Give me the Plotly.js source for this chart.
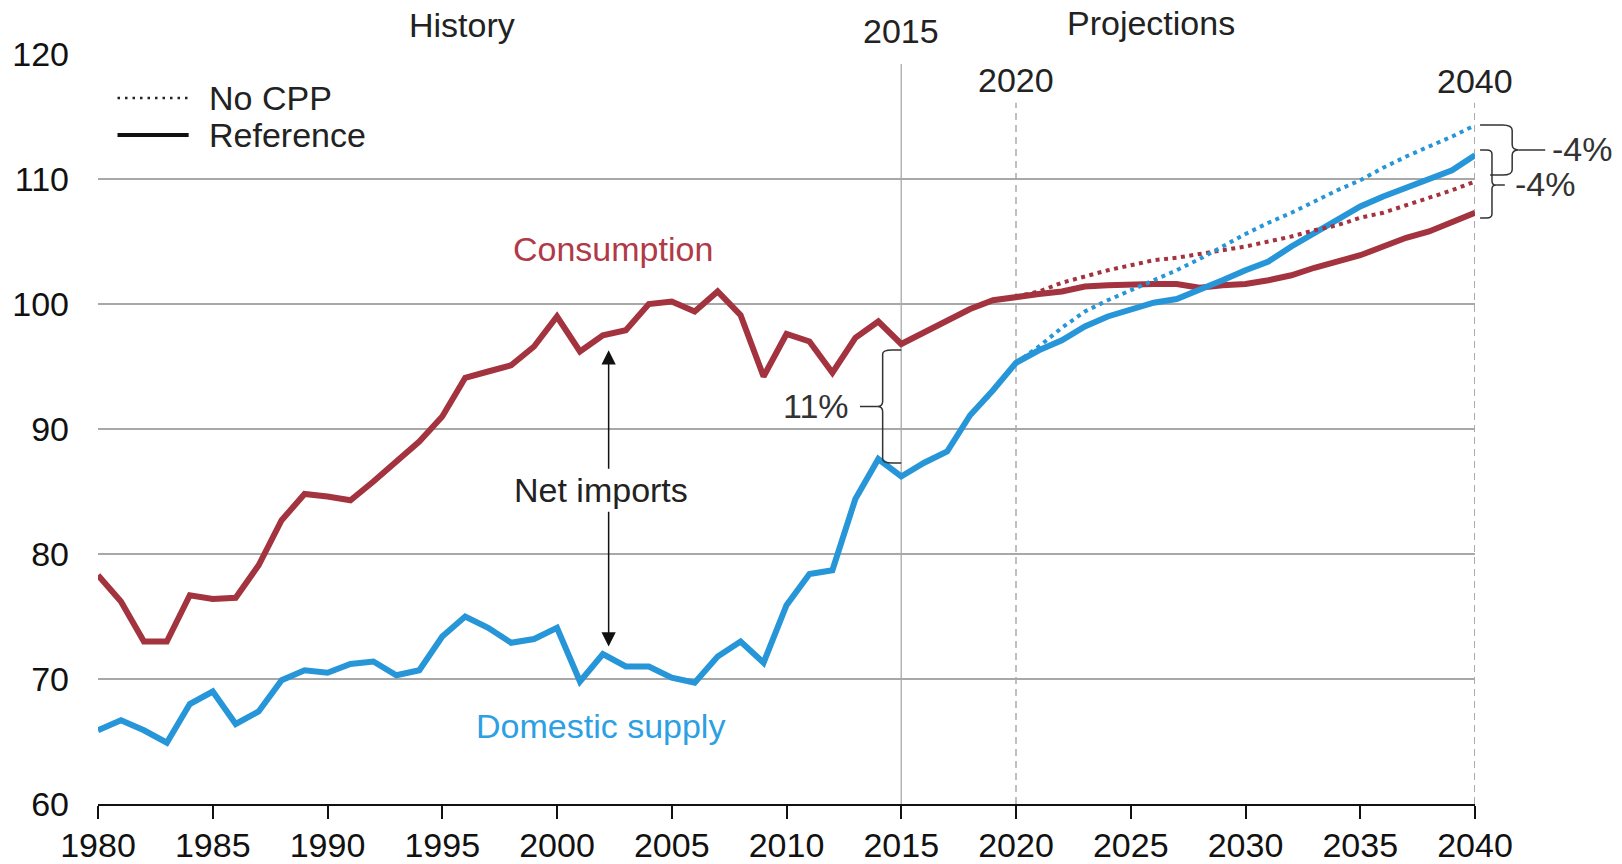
<!DOCTYPE html>
<html><head><meta charset="utf-8">
<script src="https://cdn.plot.ly/plotly-3.0.1.min.js"></script>
<style>html,body{margin:0;padding:0;background:#fff}#chart{width:1622px;height:864px}</style>
</head><body><div id="chart"></div>
<script>
const years = [1980,1981,1982,1983,1984,1985,1986,1987,1988,1989,1990,1991,1992,1993,1994,1995,1996,1997,1998,1999,2000,2001,2002,2003,2004,2005,2006,2007,2008,2009,2010,2011,2012,2013,2014,2015,2016,2017,2018,2019,2020,2021,2022,2023,2024,2025,2026,2027,2028,2029,2030,2031,2032,2033,2034,2035,2036,2037,2038,2039,2040];
const consumption = [78.3,76.2,73.0,73.0,76.7,76.4,76.5,79.1,82.7,84.8,84.6,84.3,85.8,87.4,89.0,91.0,94.1,94.6,95.1,96.6,99.0,96.2,97.5,97.9,100.0,100.2,99.4,101.0,99.1,94.2,97.6,97.0,94.5,97.3,98.6,96.8,97.7,98.7,99.6,100.3,100.6,100.8,101.0,101.4,101.5,101.6,101.6,101.6,101.3,101.5,101.6,101.9,102.3,102.9,103.4,103.9,104.6,105.3,105.8,106.5,107.3];
const domesticSupply = [65.9,66.7,65.9,64.9,68.0,69.0,66.4,67.4,69.9,70.7,70.5,71.2,71.4,70.3,70.7,73.4,75.0,74.1,72.9,73.2,74.1,69.8,72.0,71.0,71.0,70.1,69.7,71.8,73.0,71.3,75.9,78.4,78.7,84.4,87.6,86.2,87.3,88.2,91.1,93.1,95.3,96.3,97.1,98.2,99.0,99.6,100.1,100.4,101.1,101.9,102.7,103.4,104.6,105.7,106.7,107.8,108.6,109.3,109.9,110.7,111.9];
const projYears = [2020,2021,2022,2023,2024,2025,2026,2027,2028,2029,2030,2031,2032,2033,2034,2035,2036,2037,2038,2039,2040];
const noCppConsumption = [100.6,101.0,101.7,102.2,102.7,103.1,103.5,103.7,104.0,104.3,104.6,105.0,105.4,105.9,106.3,106.9,107.3,107.9,108.5,109.1,109.8];
const noCppSupply = [95.3,96.6,98.1,99.4,100.3,101.1,101.9,102.7,103.6,104.6,105.6,106.5,107.3,108.2,109.1,109.9,110.9,111.8,112.6,113.4,114.3];
const xTicks = [1980,1985,1990,1995,2000,2005,2010,2015,2020,2025,2030,2035,2040];
const yTicks = [60,70,80,90,100,110,120];

const RED = '#a3343f', BLUE = '#2796d8';
const FONT = 'Arial, "Liberation Sans", sans-serif';
const X0 = 1980, X1 = 2040, Y0 = 60, Y1 = 120;
const bx = yr => (yr - X0) / (X1 - X0);
const by = v => (v - Y0) / (Y1 - Y0);
const pp = (yr, v) => bx(yr).toFixed(5) + ',' + by(v).toFixed(5);
const dp = (yr, v) => yr + ',' + v;

const traces = [
  {x: years, y: consumption, mode: 'lines', line: {color: RED, width: 6}, hoverinfo: 'skip'},
  {x: years, y: domesticSupply, mode: 'lines', line: {color: BLUE, width: 6}, hoverinfo: 'skip'},
  {x: projYears, y: noCppConsumption, mode: 'lines', line: {color: RED, width: 4, dash: '4px,4.5px'}, hoverinfo: 'skip'},
  {x: projYears, y: noCppSupply, mode: 'lines', line: {color: BLUE, width: 4, dash: '4px,4.5px'}, hoverinfo: 'skip'}
];

const braceColor = '#333';
const shapes = [
  {type: 'line', xref: 'x', yref: 'y', x0: 2015, x1: 2015, y0: 60, y1: 119.2, line: {color: '#b4b4b4', width: 1.5}, layer: 'below'},
  {type: 'line', xref: 'x', yref: 'y', x0: 2020, x1: 2020, y0: 60, y1: 116.1, line: {color: '#ababab', width: 1.5, dash: '7px,5px'}, layer: 'below'},
  {type: 'line', xref: 'x', yref: 'y', x0: 2040, x1: 2040, y0: 60, y1: 116.1, line: {color: '#ababab', width: 2, dash: '7px,5px'}, layer: 'below'},
  // legend samples
  {type: 'line', xref: 'x', yref: 'y', x0: 1980.85, x1: 1983.9, y0: 116.48, y1: 116.48, line: {color: '#222', width: 2.5, dash: '2.5px,5px'}},
  {type: 'line', xref: 'x', yref: 'y', x0: 1980.85, x1: 1983.95, y0: 113.52, y1: 113.52, line: {color: '#111', width: 4}},
  // 11% brace
  {type: 'path', xref: 'x', yref: 'y', line: {color: braceColor, width: 1.5},
   path: 'M' + dp(2015.0, 96.32) + ' L' + dp(2014.6, 96.32) + ' Q' + dp(2014.19, 96.32) + ' ' + dp(2014.19, 96.0) +
         ' L' + dp(2014.19, 92.2) + ' Q' + dp(2014.19, 91.8) + ' ' + dp(2013.95, 91.8) +
         ' Q' + dp(2014.19, 91.8) + ' ' + dp(2014.19, 91.4) + ' L' + dp(2014.19, 87.6) +
         ' Q' + dp(2014.19, 87.28) + ' ' + dp(2014.6, 87.28) + ' L' + dp(2015.0, 87.28)},
  {type: 'path', xref: 'x', yref: 'y', line: {color: braceColor, width: 1.5},
   path: 'M' + dp(2013.95, 91.8) + ' L' + dp(2013.2, 91.8)},
  // right upper brace
  {type: 'path', xref: 'paper', yref: 'paper', line: {color: braceColor, width: 1.5},
   path: 'M' + pp(2040.22, 114.32) + ' L' + pp(2041.2, 114.32) + ' Q' + pp(2041.62, 114.32) + ' ' + pp(2041.62, 113.9) +
         ' L' + pp(2041.62, 112.75) + ' Q' + pp(2041.62, 112.32) + ' ' + pp(2041.9, 112.32) +
         ' Q' + pp(2041.62, 112.32) + ' ' + pp(2041.62, 111.9) + ' L' + pp(2041.62, 110.75) +
         ' Q' + pp(2041.62, 110.32) + ' ' + pp(2041.2, 110.32) + ' L' + pp(2040.66, 110.32)},
  {type: 'path', xref: 'paper', yref: 'paper', line: {color: braceColor, width: 1.5},
   path: 'M' + pp(2041.9, 112.32) + ' L' + pp(2043.06, 112.32)},
  // right lower brace
  {type: 'path', xref: 'paper', yref: 'paper', line: {color: braceColor, width: 1.5},
   path: 'M' + pp(2040.22, 112.32) + ' L' + pp(2040.5, 112.32) + ' Q' + pp(2040.74, 112.32) + ' ' + pp(2040.74, 112.0) +
         ' L' + pp(2040.74, 109.85) + ' Q' + pp(2040.74, 109.52) + ' ' + pp(2040.92, 109.52) +
         ' Q' + pp(2040.74, 109.52) + ' ' + pp(2040.74, 109.2) + ' L' + pp(2040.74, 107.2) +
         ' Q' + pp(2040.74, 106.88) + ' ' + pp(2040.5, 106.88) + ' L' + pp(2040.22, 106.88)},
  {type: 'path', xref: 'paper', yref: 'paper', line: {color: braceColor, width: 1.5},
   path: 'M' + pp(2040.92, 109.52) + ' L' + pp(2041.3, 109.52)}
];

const txt = '#222';
const C = {xanchor: 'center', yanchor: 'middle', showarrow: false};
const annotations = [
  Object.assign({text: 'History', x: 1995.85, xref: 'x', y: by(122.3), yref: 'paper'}, C),
  Object.assign({text: '2015', x: 2015, xref: 'x', y: by(121.8), yref: 'paper'}, C),
  Object.assign({text: 'Projections', x: 2025.9, xref: 'x', y: by(122.45), yref: 'paper'}, C),
  Object.assign({text: '2020', x: 2020, xref: 'x', y: 117.92, yref: 'y'}, C),
  Object.assign({text: '2040', x: 2040, xref: 'x', y: 117.84, yref: 'y'}, C),
  Object.assign({text: 'Consumption', x: 2002.43, xref: 'x', y: 104.4, yref: 'y', font: {color: '#b03a47'}}, C),
  Object.assign({text: 'Domestic supply', x: 2001.9, xref: 'x', y: 66.24, yref: 'y', font: {color: '#2d9fe3'}}, C),
  Object.assign({text: 'Net imports', x: 2001.93, xref: 'x', y: 85.16, yref: 'y'}, C),
  Object.assign({text: '11%', x: 2011.28, xref: 'x', y: 91.84, yref: 'y', font: {color: '#333'}}, C),
  Object.assign({text: '-4%', x: bx(2044.67), xref: 'paper', y: by(112.4), yref: 'paper', font: {color: '#333'}}, C),
  Object.assign({text: '-4%', x: bx(2043.06), xref: 'paper', y: by(109.6), yref: 'paper', font: {color: '#333'}}, C),
  {text: 'No CPP', x: 1984.75, xref: 'x', y: 116.48, yref: 'y', xanchor: 'left', yanchor: 'middle', showarrow: false},
  {text: 'Reference', x: 1984.75, xref: 'x', y: 113.52, yref: 'y', xanchor: 'left', yanchor: 'middle', showarrow: false},
  {text: '', x: 2002.25, y: 96.3, xref: 'x', yref: 'y', ax: 2002.25, ay: 86.7, axref: 'x', ayref: 'y',
   showarrow: true, arrowhead: 2, arrowsize: 1.9, arrowwidth: 1.5, arrowcolor: '#111', standoff: 0},
  {text: '', x: 2002.25, y: 72.6, xref: 'x', yref: 'y', ax: 2002.25, ay: 83.5, axref: 'x', ayref: 'y',
   showarrow: true, arrowhead: 2, arrowsize: 1.9, arrowwidth: 1.5, arrowcolor: '#111', standoff: 0}
];

const layout = {
  width: 1622, height: 864,
  margin: {l: 98, r: 147, t: 54, b: 60, pad: 0},
  paper_bgcolor: '#fff', plot_bgcolor: '#fff',
  font: {family: FONT, size: 34, color: txt},
  showlegend: false,
  xaxis: {range: [X0, X1], tickvals: xTicks, ticktext: xTicks.map(String), ticks: 'outside', ticklen: 13, tickwidth: 2,
          tickcolor: '#111', showline: true, linecolor: '#111', linewidth: 2, showgrid: false, zeroline: false,
          tickfont: {size: 34, color: '#111'}, ticklabelstandoff: -3, fixedrange: true},
  yaxis: {range: [Y0, Y1], tickvals: yTicks, ticktext: yTicks.map(String), ticks: '', showgrid: true, gridcolor: '#a8a8a8',
          gridwidth: 2, zeroline: false, showline: false, tickfont: {size: 34, color: '#111'}, ticklabelstandoff: 28, fixedrange: true},
  shapes: shapes,
  annotations: annotations
};

Plotly.newPlot('chart', traces, layout, {displayModeBar: false, staticPlot: true});
</script>
</body></html>
